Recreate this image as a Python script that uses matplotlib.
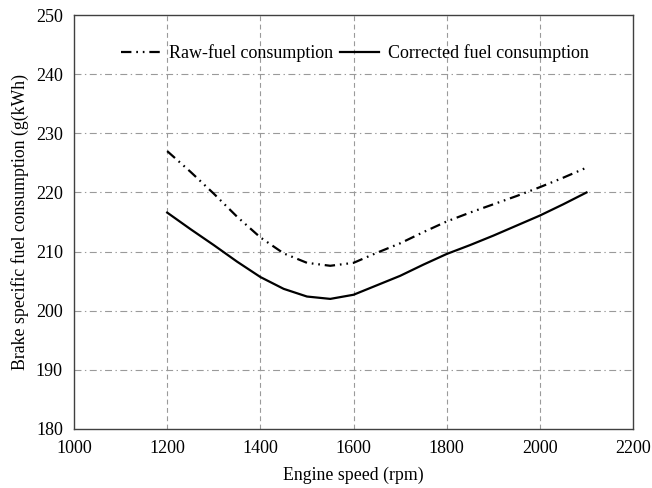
import matplotlib
matplotlib.use("Agg")
from matplotlib import pyplot as plt

# Engine speed (rpm) and brake specific fuel consumption g/(kWh)
raw_speed = [1200, 1250, 1300, 1350, 1400, 1450, 1500, 1550, 1600, 1650, 1700, 1750,
             1800, 1850, 1900, 1950, 2000, 2050, 2100]
raw_bsfc = [227.0, 223.5, 219.8, 215.9, 212.4, 209.7, 208.1, 207.6, 208.1, 209.8, 211.4, 213.3,
            215.1, 216.6, 218.0, 219.4, 220.9, 222.5, 224.2]

corr_speed = [1200, 1250, 1300, 1350, 1400, 1450, 1500, 1550, 1600, 1650, 1700, 1750,
              1800, 1850, 1900, 1950, 2000, 2050, 2100]
corr_bsfc = [216.6, 213.8, 211.1, 208.3, 205.7, 203.7, 202.4, 202.0, 202.7, 204.3, 205.9, 207.8,
             209.6, 211.1, 212.7, 214.4, 216.1, 218.0, 220.0]

xticks = [1000, 1200, 1400, 1600, 1800, 2000, 2200]
yticks = [180, 190, 200, 210, 220, 230, 240, 250]

plt.rcParams['font.family'] = ['Liberation Serif', 'DejaVu Serif']
plt.rcParams['lines.scale_dashes'] = False

fig = plt.figure(figsize=(6.52, 4.88), dpi=100)
ax = fig.add_axes([0.1135, 0.121, 0.8575, 0.848])

# сетка
for x in xticks[1:-1]:
    ax.axvline(x, color='#9a9a9a', lw=0.8, linestyle=(0, (3.5, 2.5)), zorder=1)
for y in yticks[1:-1]:
    ax.axhline(y, color='#9a9a9a', lw=0.8, linestyle=(0, (5, 2.5, 1, 2.5)), zorder=1)

ax.plot(raw_speed, raw_bsfc, color='black', lw=1.6, solid_joinstyle='round',
        linestyle=(0, (7.5, 3.5, 1.2, 3.5, 1.2, 3.5)), label='Raw-fuel consumption', zorder=3)
ax.plot(corr_speed, corr_bsfc, color='black', lw=1.6, solid_joinstyle='round',
        label='Corrected fuel consumption', zorder=3)

ax.set_xlim(1000, 2200)
ax.set_ylim(180, 250)
ax.set_xticks(xticks)
ax.set_yticks(yticks)
ax.tick_params(length=0, labelsize=13, pad=8, colors='black')
for s in ax.spines.values():
    s.set_color('#404040')
    s.set_linewidth(1.0)

ax.set_xlabel('Engine speed (rpm)', fontsize=12.8, labelpad=7)
ax.set_ylabel('Brake specific fuel consumption (g(kWh)', fontsize=12.8)
ax.yaxis.set_label_coords(-0.08, 0.5)

ax.legend(loc='center', bbox_to_anchor=(0.503, 0.908), ncol=2, frameon=False,
          fontsize=13, handlelength=2.15, handletextpad=0.5, columnspacing=0.4)

fig.savefig('out.png', dpi=100)
